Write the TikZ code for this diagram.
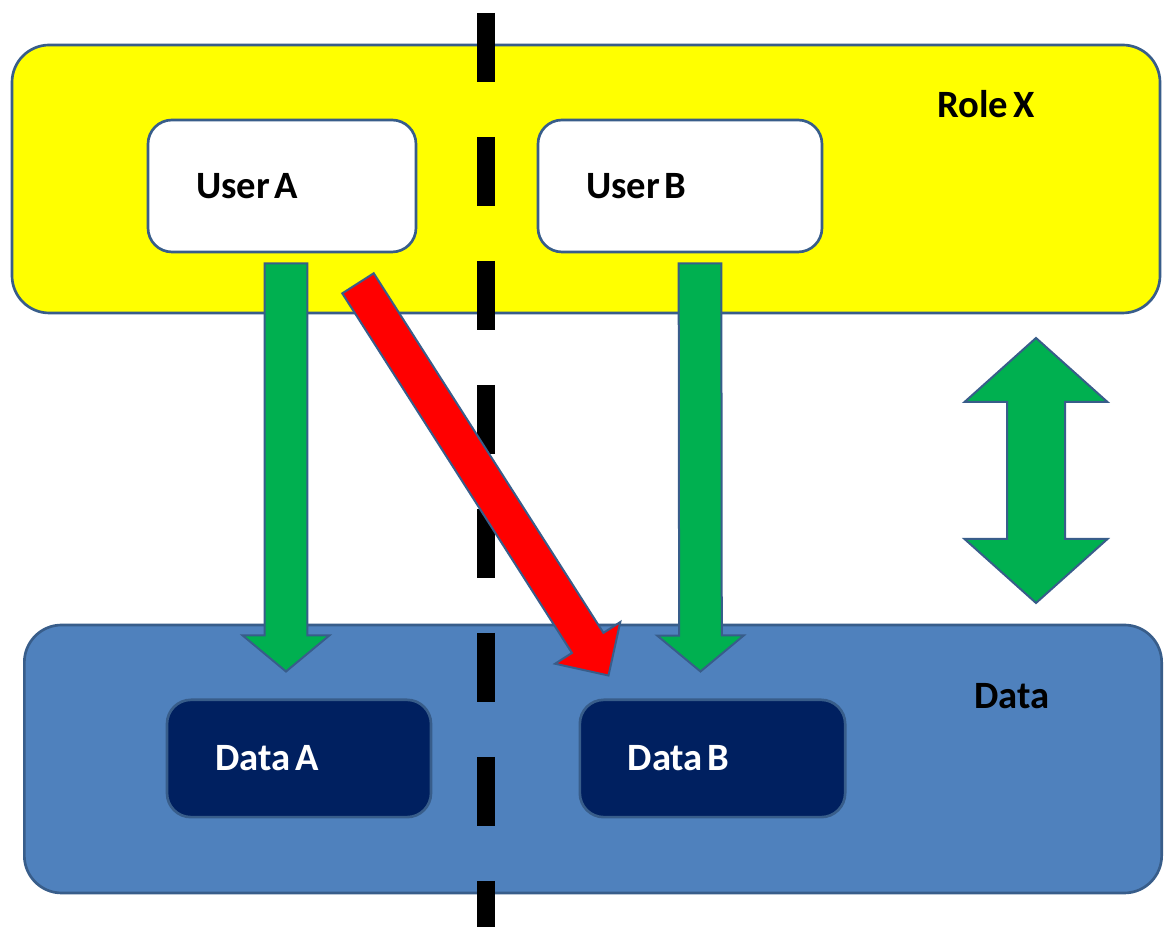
\documentclass[tikz,border=0pt]{standalone}
\usepackage{fontspec}
\setmainfont{Carlito}[WordSpace=0.55]
\usetikzlibrary{calc}
\definecolor{edgeblue}{RGB}{56,93,138}
\definecolor{roleyellow}{RGB}{255,255,0}
\definecolor{datablue}{RGB}{79,129,189}
\definecolor{navy}{RGB}{0,32,96}
\definecolor{okgreen}{RGB}{0,176,80}
\definecolor{badred}{RGB}{255,0,0}
\tikzset{
  zone/.style={draw=edgeblue,line width=2pt,rounded corners=28pt},
  rolebox/.style={zone,fill=roleyellow},
  databox/.style={zone,fill=datablue},
  itembox/.style={draw=edgeblue,line width=2pt,rounded corners=18pt,align=flush left,
                  inner xsep=36pt,font=\fontsize{29}{33}\selectfont\bfseries},
  userbox/.style={itembox,fill=white,minimum height=99pt},
  dbox/.style={itembox,fill=navy,text=white,minimum height=88pt},
  lbl/.style={font=\fontsize{29}{33}\selectfont\bfseries},
  okarrow/.style={draw=edgeblue,line width=1.5pt,fill=okgreen},
  badarrow/.style={draw=edgeblue,line width=1.5pt,fill=badred},
  wall/.style={line width=14pt,dash pattern=on 51.75pt off 41.25pt},
}
% block arrow: style, from, to, half shaft, half head, head length
\newcommand{\blockarrow}[6]{%
  \path ($(#3)!#6!(#2)$) coordinate (hd);
  \draw[#1] ($(#2)!#4!90:(#3)$) -- ($(hd)!#4!90:(#3)$) -- ($(hd)!#5!90:(#3)$) -- (#3)
    -- ($(hd)!#5!-90:(#3)$) -- ($(hd)!#4!-90:(#3)$) -- ($(#2)!#4!-90:(#3)$) -- cycle;}
% same, with a head at both ends
\newcommand{\twowayarrow}[6]{%
  \path ($(#2)!#6!(#3)$) coordinate (ht) ($(#3)!#6!(#2)$) coordinate (hd);
  \draw[#1] (#2) -- ($(ht)!#5!90:(#3)$) -- ($(ht)!#4!90:(#3)$) -- ($(hd)!#4!90:(#3)$)
    -- ($(hd)!#5!90:(#3)$) -- (#3) -- ($(hd)!#5!-90:(#3)$) -- ($(hd)!#4!-90:(#3)$)
    -- ($(ht)!#4!-90:(#3)$) -- ($(ht)!#5!-90:(#3)$) -- cycle;}

\begin{document}
\begin{tikzpicture}[x=0.75pt,y=0.75pt]
  \path[use as bounding box,fill=white] (0,0) rectangle (1164,927);

  % --- zones ---------------------------------------------------------------
  \node[rolebox,minimum width=861pt,minimum height=201pt] (role) at (586,748) {};
  \node[databox,minimum width=853pt,minimum height=201pt] (data) at (593,168) {};
  \node[lbl] (rolelbl) at (986,823) {Role X};
  \node[lbl] (datalbl) at (1012,231) {Data};

  % --- users and their data ------------------------------------------------
  \node[userbox,text width=129pt] (usera) at (282,741) {User A};
  \node[userbox,text width=141pt] (userb) at (680,741) {User B};
  \node[dbox,text width=126pt] (dataa) at (299,168.5) {Data A};
  \node[dbox,text width=127pt] (datab) at (712.5,168.5) {Data B};

  % --- separation line -----------------------------------------------------
  \coordinate (cuttop) at (486,914);
  \coordinate (cutbot) at (486,0);
  \draw[wall] (cuttop) -- (cutbot);

  % --- allowed access ------------------------------------------------------
  \coordinate (a1) at ($(usera.south)+(4,-10)$);
  \coordinate (a2) at ($(dataa.north)+(-13,27)$);
  \coordinate (b1) at ($(userb.south)+(20,-10)$);
  \coordinate (b2) at ($(datab.north)+(-12,27)$);
  \blockarrow{okarrow}{a1}{a2}{16pt}{32.5pt}{27pt}
  \blockarrow{okarrow}{b1}{b2}{16pt}{32.5pt}{27pt}

  % --- role <-> data -------------------------------------------------------
  \coordinate (synctop) at (1036,589);
  \coordinate (syncbot) at (1036,324);
  \twowayarrow{okarrow}{synctop}{syncbot}{21.75pt}{53.6pt}{48pt}

  % --- forbidden access ----------------------------------------------------
  \coordinate (r1) at ($(usera.south)+(76,-30)$);
  \coordinate (r2) at ($(datab.north west)+(30,23)$);
  \blockarrow{badarrow}{r1}{r2}{14pt}{29pt}{29pt}

\end{tikzpicture}
\end{document}
